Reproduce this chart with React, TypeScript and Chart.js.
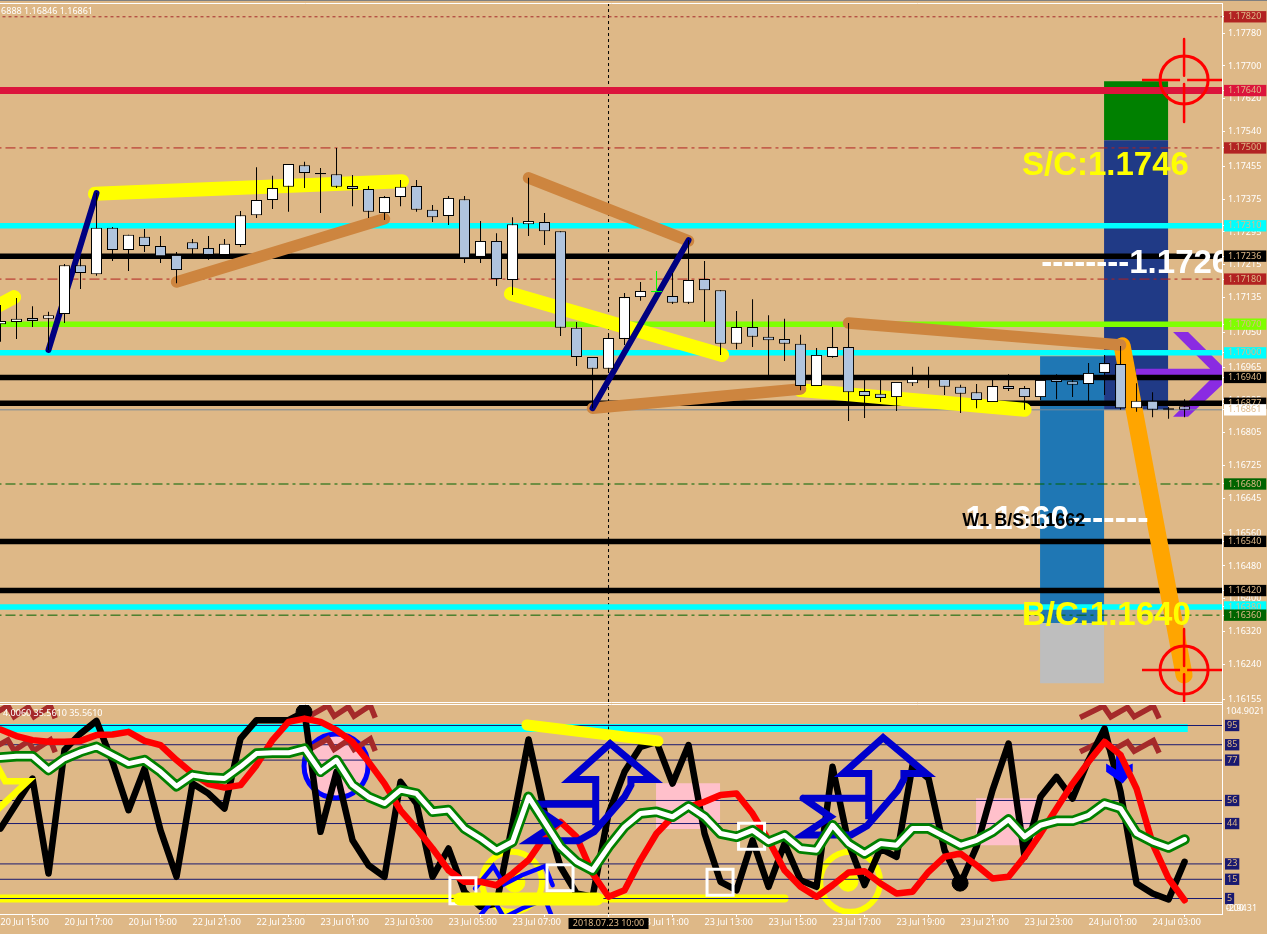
import React, { useEffect, useRef } from "react";
import { Chart, registerables } from "chart.js";

Chart.register(...registerables);

const candleOpen = [1.17070,1.17075,1.17085,1.17083,1.17095,1.17214,1.17192,1.17305,1.17251,1.17283,1.17261,1.17239,1.17270,1.17256,1.17239,1.17263,1.17336,1.17373,1.17405,1.17458,1.17436,1.17436,1.17407,1.17400,1.17341,1.17380,1.17407,1.17349,1.17334,1.17375,1.17234,1.17273,1.17178,1.17314,1.17319,1.17297,1.17061,1.16990,1.16961,1.17034,1.17136,1.17148,1.17139,1.17122,1.17180,1.17153,1.17022,1.17063,1.17039,1.17034,1.17022,1.16919,1.16990,1.17014,1.16907,1.16900,1.16892,1.16926,1.16936,1.16936,1.16917,1.16904,1.16880,1.16919,1.16914,1.16892,1.16936,1.16931,1.16924,1.16951,1.16973,1.16865,1.16883,1.16861,1.16870];
const candleHigh = [1.17117,1.17134,1.17114,1.17100,1.17217,1.17234,1.17390,1.17307,1.17288,1.17302,1.17285,1.17246,1.17278,1.17285,1.17278,1.17346,1.17453,1.17432,1.17461,1.17466,1.17451,1.17500,1.17434,1.17407,1.17383,1.17422,1.17422,1.17361,1.17383,1.17383,1.17322,1.17292,1.17331,1.17427,1.17341,1.17297,1.17075,1.16990,1.17046,1.17146,1.17173,1.17200,1.17195,1.17275,1.17224,1.17153,1.17102,1.17131,1.17092,1.17083,1.17044,1.17012,1.17063,1.17073,1.16934,1.16934,1.16929,1.16966,1.16966,1.16936,1.16922,1.16924,1.16934,1.16948,1.16919,1.16934,1.16948,1.16946,1.16975,1.16995,1.17017,1.16926,1.16904,1.16868,1.16887];
const candleLow = [1.17027,1.17034,1.17063,1.17007,1.17073,1.17156,1.17188,1.17224,1.17200,1.17246,1.17219,1.17170,1.17239,1.17227,1.17236,1.17258,1.17329,1.17351,1.17344,1.17402,1.17341,1.17402,1.17358,1.17329,1.17324,1.17358,1.17344,1.17319,1.17312,1.17219,1.17219,1.17163,1.17141,1.17285,1.17263,1.17041,1.16968,1.16865,1.16951,1.17019,1.17127,1.17148,1.17119,1.17119,1.17075,1.16995,1.17009,1.17014,1.16941,1.16980,1.16909,1.16919,1.16988,1.16834,1.16841,1.16880,1.16858,1.16919,1.16914,1.16897,1.16853,1.16865,1.16880,1.16907,1.16861,1.16885,1.16887,1.16892,1.16880,1.16897,1.16861,1.16856,1.16843,1.16839,1.16843];
const candleClose = [1.17078,1.17083,1.17078,1.17092,1.17214,1.17195,1.17305,1.17251,1.17288,1.17261,1.17236,1.17202,1.17253,1.17239,1.17266,1.17336,1.17373,1.17402,1.17461,1.17439,1.17439,1.17405,1.17400,1.17344,1.17380,1.17405,1.17349,1.17331,1.17378,1.17231,1.17273,1.17180,1.17314,1.17322,1.17297,1.17061,1.16990,1.16961,1.17036,1.17136,1.17151,1.17151,1.17122,1.17178,1.17153,1.17022,1.17063,1.17039,1.17031,1.17022,1.16919,1.16995,1.17014,1.16904,1.16895,1.16890,1.16929,1.16936,1.16939,1.16917,1.16900,1.16885,1.16919,1.16912,1.16892,1.16934,1.16929,1.16922,1.16951,1.16975,1.16865,1.16883,1.16861,1.16865,1.16861];
const limeCandle = 41;

const oscBlack = [41.4,54.4,67.4,18.0,82.2,90.8,97.4,76.1,50.9,72.6,40.5,16.3,64.8,59.6,51.8,88.2,97.8,97.8,97.8,102.1,39.7,70.9,35.3,22.3,16.3,65.7,54.4,16.3,31.0,8.5,0.7,2.4,44.0,87.7,50.1,21.5,7.6,5.9,49.2,70.9,83.9,86.5,64.8,84.8,38.8,13.7,9.3,35.3,11.1,33.6,14.5,11.1,73.5,33.6,12.0,31.0,26.7,74.4,67.4,30.1,12.8,31.9,61.4,85.6,26.7,57.9,68.3,57.0,77.0,93.4,60.5,12.8,7.6,4.5,24.1];
const oscRed = [92.9,89.5,87.4,86.5,86.5,87.0,90.0,90.3,91.7,87.0,84.8,77.0,70.0,64.5,62.7,64.0,74.4,87.4,96.9,98.6,96.9,92.6,86.5,76.1,64.8,50.9,41.4,31.0,19.7,13.7,13.7,11.9,18.0,25.0,37.1,44.9,37.1,18.0,5.9,9.3,25.0,38.8,47.5,52.7,55.3,58.8,59.6,49.2,35.3,19.7,11.1,5.9,11.9,18.5,19.2,12.8,7.6,8.5,18.9,26.7,28.4,22.3,15.4,16.3,26.7,38.8,51.8,64.8,76.1,86.5,79.6,62.2,33.6,15.4,4.1];
const oscGreen = [78.4,79.0,79.0,71.8,77.8,81.3,83.9,79.6,75.2,77.0,70.9,63.4,69.2,67.9,67.4,73.5,80.4,80.8,80.8,83.0,70.9,77.0,64.0,57.9,54.4,61.4,59.6,50.1,51.0,41.4,36.2,30.1,34.5,57.9,44.9,31.9,24.1,19.7,31.9,42.3,49.2,50.1,47.5,53.0,47.5,38.8,37.1,40.5,34.5,37.9,31.0,30.1,43.1,33.6,28.4,33.6,32.7,41.4,41.4,37.1,32.7,35.3,39.7,46.1,37.1,43.1,45.4,45.4,48.3,54.4,51.8,38.8,34.5,31.5,35.7];

const xTickIndex = [0,4,8,12,16,20,24,28,32,36,40,44,48,52,56,60,64,68,72];
const xTickLabels = ["20 Jul 15:00","20 Jul 17:00","20 Jul 19:00","22 Jul 21:00","22 Jul 23:00","23 Jul 01:00","23 Jul 03:00","23 Jul 05:00","23 Jul 07:00","23 Jul 09:00","23 Jul 11:00","23 Jul 13:00","23 Jul 15:00","23 Jul 17:00","23 Jul 19:00","23 Jul 21:00","23 Jul 23:00","24 Jul 01:00","24 Jul 03:00"];
const priceTicks = [1.1778,1.177,1.1762,1.1754,1.17455,1.17375,1.17295,1.17215,1.17135,1.1705,1.16965,1.16885,1.16805,1.16725,1.16645,1.1656,1.1648,1.164,1.1632,1.1624,1.16155];
const boxedPrices = [1.1782,1.1764,1.175,1.1731,1.17236,1.1718,1.1707,1.17,1.1694,1.16877,1.16861,1.1668,1.1654,1.1642,1.1638,1.1636];
const boxedColors = ["#B22222","#DC143C","#B22222","#00FFFF","#000000","#B22222","#7FFF00","#00FFFF","#000000","#000000","#FFFFFF","#006400","#000000","#000000","#00FFFF","#006400"];
const oscLevels = [95,85,77,56,44,23,15,5];

const levelPrices = [1.1782,1.175,1.1718,1.1668,1.1636,1.16861,1.1731,1.17236,1.1707,1.17,1.1694,1.16877,1.1654,1.1642,1.1638,1.1764];
const levelColors = ["#A52A2A","#B22222","#B22222","#006400","#006400","#778899","#00FFFF","#000000","#7FFF00","#00FFFF","#000000","#000000","#000000","#000000","#00FFFF","#DC143C"];
const levelWidths = [1,1,1,1,1,1,5.5,5.5,5.5,5.5,5.5,5.5,5.5,5.5,5.5,7];
const levelDashes = [[3,3],[10,4,3,4],[10,4,3,4],[10,4,3,4],[10,4,3,4],[],[],[],[],[],[],[],[],[],[],[]];

const rectGreen = [[68.97,1.17663],[72.97,1.17663],[72.97,1.17519],[68.97,1.17519]];
const rectNavy = [[68.97,1.17519],[72.97,1.17519],[72.97,1.16861],[68.97,1.16861]];
const rectSteel = [[64.97,1.16992],[68.97,1.16992],[68.97,1.16341],[64.97,1.16341]];
const rectGray = [[64.97,1.16341],[68.97,1.16341],[68.97,1.16194],[64.97,1.16194]];
const purpleChevron = [[73.28,1.17051],[74.22,1.17051],[76.4,1.16966],[76.4,1.16924],[74.22,1.16844],[73.28,1.16844],[75.59,1.16934],[75.59,1.16961]];
const purpleShaft = [[70.97,1.16961],[76.4,1.16961],[76.4,1.16939],[70.97,1.16939]];

const yellowTrends = [[[-0.3,1.17112],[0.85,1.17136]],[[5.9,1.17388],[25.1,1.17419]],[[31.9,1.17144],[45.1,1.16995]],[[50,1.16909],[64,1.16861]]];
const brownTrends = [[[11,1.17173],[24,1.17327]],[[33,1.17427],[43,1.17273]],[[37,1.16865],[50,1.16912]],[[53,1.17073],[70,1.17019]]];
const navyTrends = [[[3,1.17007],[6,1.1739]],[[37,1.16865],[43,1.17275]]];
const orangeTrend = [[70.1,1.17017],[73.97,1.16214]];

const targetX = 73.97;
const targetCentres = [1.17666,1.16226];
const targetArms = [[[71.34,1.17666],[73.72,1.17666]],[[74.16,1.17666],[76.34,1.17666]],[[73.97,1.17766],[73.97,1.17676]],[[73.97,1.17656],[73.97,1.17563]],[[71.34,1.16226],[73.72,1.16226]],[[74.16,1.16226],[76.34,1.16226]],[[73.97,1.16326],[73.97,1.16236]],[[73.97,1.16216],[73.97,1.16148]]];

const pinkRects = [[[40.97,65],[44.97,65],[44.97,41.1],[40.97,41.1]],[[60.97,57.2],[64.78,57.2],[64.78,32.7],[60.97,32.7]]];
const cyanBand = [[-1,93.7],[74.2,93.7]];
const yellowThin = [[-1,5],[49,5]];
const yellowThick = [[28.72,4.8],[37.28,4.8]];
const yellowTop = [[32.9,95.3],[41.09,86.9]];
const yellowStar = [[-0.6,80],[0.3,66],[1.7,66],[-0.6,48]];
const blueArrow = [[33.1,54.1],[34.8,44.4],[33.1,35],[36.1,35],[37.1,39.7],[39,57.9],[39.4,64],[39.4,66.9],[40.8,66.9],[38.1,85.6],[35.6,66.9],[37.2,66.9],[37.2,43.1],[37.2,54.1],[33.1,54.1]];
const arrowShift = [17.06,3.1];
const blueDown = [[69.1,75.2],[69.72,72],[69.72,80.4],[70.17,80.4],[70.17,73],[70.76,75.2],[70.76,70.9],[70.13,64.8],[69.1,70.9]];
const zigzagDx = [0,1.46,1.92,2.96,3.38,4.58,4.94];
const zigzagDy = [0,5.9,0.35,5.2,0.35,5.9,-0.5];
const zigzagAnchors = [[-0.78,99.3,0.85],[-0.78,81.6,0.85],[19.22,99.5,0.85],[19.22,82.2,0.85],[67.47,99.2,1],[67.47,81.3,1]];
const blueZigzagA = [[29.66,10.2],[30.8,21.8],[31.47,12.4],[32.58,17.1],[34.03,21.8],[34.51,11.9]];
const blueZigzagB = [[29.66,-7.1],[30.8,4.5],[31.47,-4.9],[32.58,-0.2],[34.03,4.5],[34.51,-5.4]];
const whiteSquares = [[28.9,9.05],[34.97,15.8],[44.97,13.5],[46.94,37.4]];
const blackDots = [[59.97,13],[18.97,102]];
const blueRing = [20.97,74];
const yellowRings = [[31.97,13.7],[53.1,13.7]];
const yellowDots = [[32.15,13.5],[52.97,14]];
const crosshairIndex = 38;

const chartTexts = [
  { t: "S/C:1.1746", x: 63.84, y: 1.17456, s: "yP", c: "#FFFF00", f: 'bold 33px "Liberation Sans"', a: "left" },
  { t: "B/C:1.1640", x: 63.84, y: 1.16358, s: "yP", c: "#FFFF00", f: 'bold 33px "Liberation Sans"', a: "left" },
  { t: "--------1.1726", x: 65.05, y: 1.17217, s: "yP", c: "#FFFFFF", f: 'bold 33px "Liberation Sans"', a: "left" },
  { t: "1.1660-------", x: 60.3, y: 1.16593, s: "yP", c: "#FFFFFF", f: 'bold 34px "Liberation Sans"', a: "left" },
  { t: "W1 B/S:1.1662", x: 60.1, y: 1.16589, s: "yP", c: "#000000", f: 'bold 18px "Liberation Sans"', a: "left" },
  { t: "1.16888 1.16846 1.16861", x: 5.78, y: 1.17834, s: "yP", c: "#FFFFFF", f: '9px "Noto Sans"', a: "right" },
  { t: "4.0060 35.5610 35.5610", x: 0.16, y: 101.5, s: "yO", c: "#FFFFFF", f: '9px "Noto Sans"', a: "left" },
];

const FONT = "Noto Sans";
const TAN = "#DEB887";
const toPts = (a: number[][]) => a.map(([x, y]) => ({ x, y }));

function buildDatasets() {
  const ds: any[] = [];
  const add = (d: any) => {
    ds.push({ order: -ds.length, clip: 0, ...d });
  };
  const line = (axis: string, pts: number[][], color: string, width: number, extra: any = {}) =>
    add({ type: "line", yAxisID: axis, data: toPts(pts), borderColor: color, borderWidth: width, pointRadius: 0, tension: 0, fill: false, borderCapStyle: "round", borderJoinStyle: "round", ...extra });
  const poly = (axis: string, pts: number[][], color: string) =>
    add({ type: "line", yAxisID: axis, data: toPts([...pts, pts[0]]), borderWidth: 0, borderColor: color, backgroundColor: color, pointRadius: 0, tension: 0, fill: "shape" });
  const dot = (axis: string, p: number[], radius: number, style: string, bg: string, border: string, bw: number) =>
    add({ type: "line", yAxisID: axis, showLine: false, data: toPts([p]), pointStyle: style, pointRadius: radius, pointBackgroundColor: bg, pointBorderColor: border, pointBorderWidth: bw });
  const series = (vals: number[]) => vals.map((v, i) => [i, v]);

  // price panel
  poly("yP", rectGreen, "#008000");
  poly("yP", rectNavy, "#203A86");
  poly("yP", rectSteel, "#1F77B4");
  poly("yP", rectGray, "#BEBEBE");
  line("yP", [[crosshairIndex, 1.18], [crosshairIndex, 1.16]], "#000000", 1, { borderDash: [3, 3], borderCapStyle: "butt" });
  poly("yP", purpleChevron, "#8A2BE2");
  poly("yP", purpleShaft, "#8A2BE2");
  levelPrices.forEach((p, i) =>
    line("yP", [[-1, p], [78, p]], levelColors[i], levelWidths[i], { borderDash: levelDashes[i], borderCapStyle: "butt" })
  );
  line("yP", orangeTrend, "#FFA500", 17);
  yellowTrends.forEach((t) => line("yP", t, "#FFFF00", 14));
  brownTrends.forEach((t) => line("yP", t, "#CD853F", 11.5));
  navyTrends.forEach((t) => line("yP", t, "#000080", 6));
  const idx = candleOpen.map((_, i) => i);
  add({
    type: "bar", yAxisID: "yP", grouped: false, barThickness: 1, inflateAmount: 0, borderWidth: 0, borderSkipped: false,
    data: idx.map((i) => ({ x: i, y: [candleLow[i], candleHigh[i]] })),
    backgroundColor: idx.map((i) => (i === limeCandle ? "#00FF00" : "#000000")),
  });
  add({
    type: "bar", yAxisID: "yP", grouped: false, barThickness: 11, inflateAmount: 0, borderWidth: 1, borderSkipped: false,
    data: idx.map((i) => ({ x: i, y: [candleOpen[i], candleClose[i]] })),
    backgroundColor: idx.map((i) => (i === limeCandle ? "#00FF00" : candleClose[i] >= candleOpen[i] ? "#FFFFFF" : "#B0C4DE")),
    borderColor: idx.map((i) => (i === limeCandle ? "#00FF00" : "#000000")),
  });
  targetArms.forEach((t) => line("yP", t, "#FF0000", 2.5, { borderCapStyle: "butt" }));
  targetCentres.forEach((c) => dot("yP", [targetX, c], 24, "circle", "rgba(0,0,0,0)", "#FF0000", 3));

  // oscillator panel
  pinkRects.forEach((r) => poly("yO", r, "#FFC0CB"));
  line("yO", cyanBand, "#00FFFF", 8, { borderCapStyle: "butt" });
  line("yO", yellowThin, "#FFFF00", 8);
  dot("yO", blueRing, 32, "circle", "#FFC0CB", "#0000FF", 5);
  yellowRings.forEach((r) => dot("yO", r, 30, "circle", "rgba(0,0,0,0)", "#FFFF00", 6));
  yellowDots.forEach((r) => dot("yO", r, 10, "circle", "#FFFF00", "#FFFF00", 1));
  oscLevels.forEach((v) => line("yO", [[-1, v], [78, v]], "#191970", 1, { borderCapStyle: "butt" }));
  line("yO", [[crosshairIndex, 110], [crosshairIndex, -5]], "#000000", 1, { borderDash: [3, 3], borderCapStyle: "butt" });
  zigzagAnchors.forEach(([ax, ay, k]) =>
    line("yO", zigzagDx.map((dx, i) => [ax + dx * k, ay + zigzagDy[i]]), "#A52A2A", 5.5, { borderCapStyle: "butt", borderJoinStyle: "miter" })
  );
  line("yO", series(oscBlack), "#000000", 6.5);
  blackDots.forEach((p) => dot("yO", p, 8, "circle", "#000000", "#000000", 1));
  line("yO", blueZigzagA, "#0000FF", 4.5, { borderJoinStyle: "miter" });
  line("yO", blueZigzagB, "#0000FF", 4.5, { borderJoinStyle: "miter" });
  poly("yO", blueDown, "#0000FF");
  line("yO", series(oscRed), "#FF0000", 6.5);
  whiteSquares.forEach((p) => dot("yO", p, 18.4, "rect", "rgba(0,0,0,0)", "#FFFFFF", 3));
  line("yO", yellowThick, "#FFFF00", 13);
  line("yO", yellowTop, "#FFFF00", 11);
  line("yO", yellowStar, "#FFFF00", 6.5, { borderJoinStyle: "miter" });
  line("yO", blueArrow, "#0000CD", 7, { borderJoinStyle: "miter" });
  line("yO", blueArrow.map(([x, y]) => [x + arrowShift[0], y + arrowShift[1]]), "#0000CD", 7, { borderJoinStyle: "miter" });
  line("yO", series(oscGreen), "#008000", 10.5);
  line("yO", series(oscGreen), "#FFFFFF", 5);
  return ds;
}

const overlay = {
  id: "overlay",
  afterDatasetsDraw(chart: any) {
    const { ctx, chartArea, scales } = chart;
    ctx.save();
    ctx.textBaseline = "middle";
    ctx.beginPath();
    ctx.rect(0, chartArea.top, chartArea.right, scales.yO.bottom - chartArea.top);
    ctx.clip();
    chartTexts.forEach((t) => {
      ctx.font = t.f;
      ctx.fillStyle = t.c;
      ctx.textAlign = t.a;
      ctx.fillText(t.t, scales.x.getPixelForValue(t.x), scales[t.s].getPixelForValue(t.y));
    });
    ctx.restore();

    ctx.save();
    // panel frame
    ctx.strokeStyle = "#FFFFFF";
    ctx.lineWidth = 1;
    const sep = Math.round(scales.yP.bottom);
    [chartArea.top - 0.5, sep - 1.5, sep + 0.5].forEach((y) => {
      ctx.beginPath();
      ctx.moveTo(0, y);
      ctx.lineTo(chartArea.right + 1, y);
      ctx.stroke();
    });
    ctx.fillStyle = "#808080";
    ctx.fillRect(0, 0, chart.width, 1);

    // extra labels of the oscillator axis
    ctx.textBaseline = "middle";
    ctx.textAlign = "left";
    ctx.font = `9px "${FONT}"`;
    ctx.fillStyle = "#FFFFFF";
    ctx.fillText("104.9021", chartArea.right + 4, scales.yO.getPixelForValue(102.4));
    ctx.fillText("-2.9431", chartArea.right + 4, scales.yO.getPixelForValue(0));
    ctx.fillText("0.00", chartArea.right + 4, scales.yO.getPixelForValue(0));

    // crosshair time label
    const cx = scales.x.getPixelForValue(crosshairIndex);
    ctx.fillStyle = "#000000";
    ctx.fillRect(cx - 40, chartArea.bottom + 4, 80, 11);
    ctx.fillStyle = TAN;
    ctx.textAlign = "center";
    ctx.fillText("2018.07.23 10:00", cx, chartArea.bottom + 9.5);
    ctx.restore();
  },
};

export default function App() {
  const ref = useRef<HTMLCanvasElement | null>(null);
  useEffect(() => {
    const flatFit = (size: "width" | "height", v: number) => (s: any) => {
      s[size] = v;
      s.paddingTop = 0;
      s.paddingBottom = 0;
      s.paddingLeft = 0;
      s.paddingRight = 0;
    };
    const isBoxed = (v: number) => boxedPrices.indexOf(v);
    const chart = new Chart(ref.current as HTMLCanvasElement, {
      type: "line",
      data: { datasets: buildDatasets() },
      plugins: [overlay],
      options: {
        responsive: false,
        animation: false,
        events: [],
        layout: { autoPadding: false, padding: { top: 4, left: 0, right: 0, bottom: 0 } },
        plugins: { legend: { display: false }, tooltip: { enabled: false } },
        scales: {
          x: {
            type: "linear",
            position: "bottom",
            min: -0.03125,
            max: 76.34,
            offset: false,
            afterBuildTicks: (s: any) => {
              s.ticks = xTickIndex.map((value) => ({ value }));
            },
            afterFit: flatFit("height", 20),
            border: { color: "#FFFFFF" },
            grid: { drawOnChartArea: false, tickColor: "#FFFFFF", tickLength: 3 },
            ticks: {
              autoSkip: false,
              maxRotation: 0,
              minRotation: 0,
              align: "start",
              padding: 0,
              color: "#FFFFFF",
              font: { family: FONT, size: 9, lineHeight: 1.1 },
              callback: (v: any) => xTickLabels[xTickIndex.indexOf(Number(v))],
            },
          },
          yP: {
            type: "linear",
            position: "right",
            stack: "v",
            stackWeight: 700,
            weight: 0,
            min: 1.161432,
            max: 1.178512,
            afterBuildTicks: (s: any) => {
              s.ticks = [...priceTicks, ...boxedPrices].map((value) => ({ value }));
            },
            afterFit: flatFit("width", 45),
            border: { color: "#FFFFFF" },
            grid: { drawOnChartArea: false, tickColor: "#FFFFFF", tickLength: 3 },
            ticks: {
              autoSkip: false,
              padding: 3,
              font: { family: FONT, size: 9, lineHeight: 1.15 },
              color: (c: any) => (isBoxed(c.tick.value) >= 0 ? TAN : "#FFFFFF"),
              showLabelBackdrop: (c: any) => isBoxed(c.tick.value) >= 0,
              backdropColor: (c: any) => boxedColors[isBoxed(c.tick.value)] || "rgba(0,0,0,0)",
              backdropPadding: { left: 4, right: 5, top: 0.5, bottom: 0.5 },
              callback: (v: any) => Number(v).toFixed(5),
            },
          },
          yO: {
            type: "linear",
            position: "right",
            stack: "v",
            stackWeight: 210,
            weight: 1,
            min: -3.06,
            max: 106.19,
            afterBuildTicks: (s: any) => {
              s.ticks = oscLevels.map((value) => ({ value }));
            },
            afterFit: flatFit("width", 45),
            border: { color: "#FFFFFF" },
            grid: { drawOnChartArea: false, tickColor: "#FFFFFF", tickLength: 1 },
            ticks: {
              autoSkip: false,
              padding: 4,
              font: { family: FONT, size: 9, lineHeight: 1.15 },
              color: TAN,
              showLabelBackdrop: true,
              backdropColor: "#191970",
              backdropPadding: { left: 2, right: 2, top: 0.5, bottom: 0.5 },
              callback: (v: any) => String(v),
            },
          },
        },
      },
    } as any);
    return () => chart.destroy();
  }, []);
  return (
    <div style={{ position: "absolute", left: 0, top: 0, width: 1267, height: 934, background: TAN, overflow: "hidden" }}>
      <canvas ref={ref} width={1267} height={934} style={{ display: "block" }} />
    </div>
  );
}
